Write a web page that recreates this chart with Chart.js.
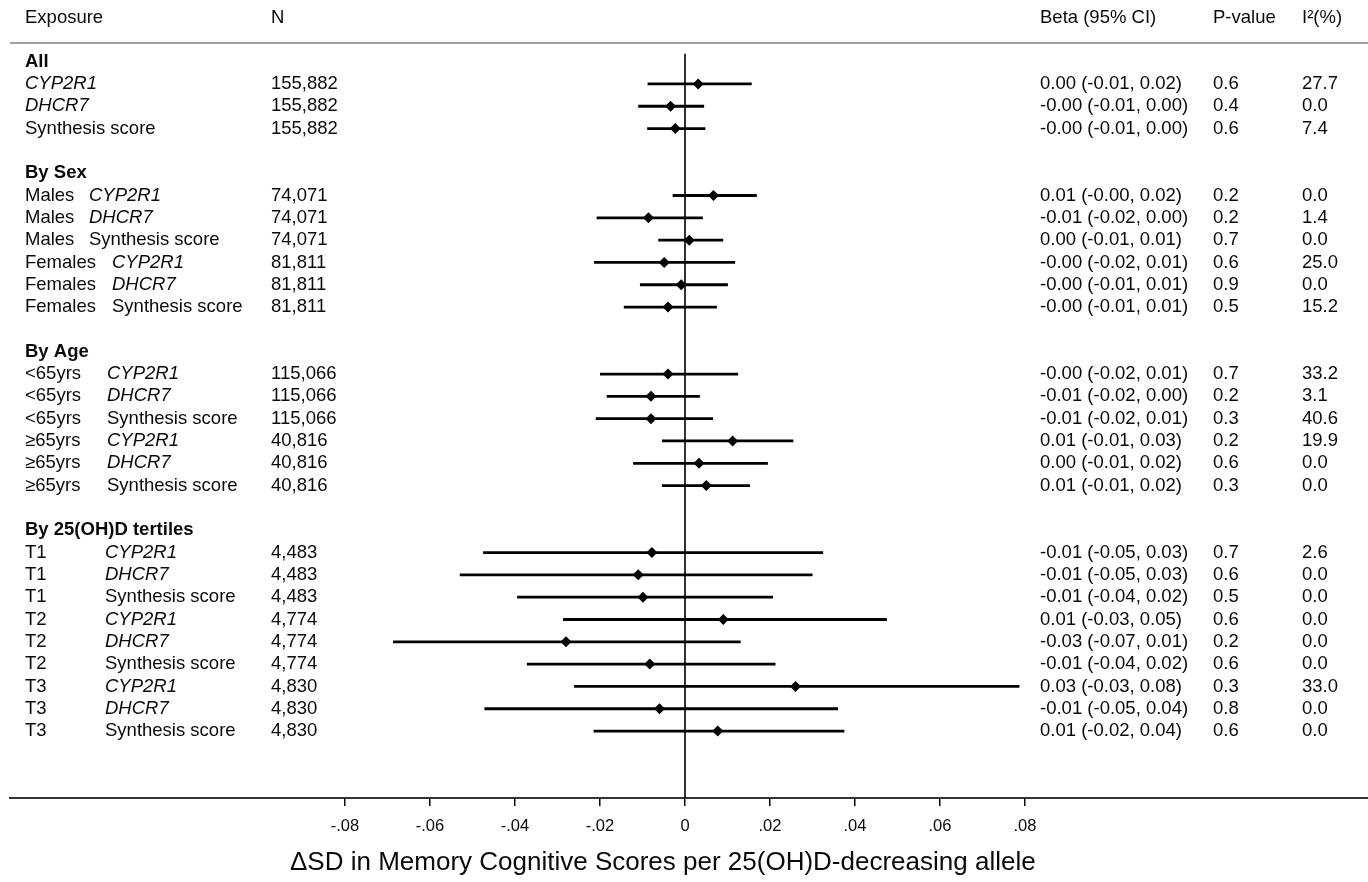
<!DOCTYPE html>
<html><head><meta charset="utf-8">
<script src="https://cdn.jsdelivr.net/npm/chart.js@4.4.1/dist/chart.umd.min.js"></script>
<style>html,body{margin:0;padding:0;background:#fff;}#wrap{width:1368px;height:882px;}</style>
</head><body><div id="wrap"><canvas id="c" width="1368" height="882"></canvas></div>
<script>
const sectionTitles = ['All', 'By Sex', 'By Age', 'By 25(OH)D tertiles'];
const sectionSizes = [3, 6, 6, 9];
const groupLabels = ['', '', '',
  'Males', 'Males', 'Males', 'Females', 'Females', 'Females',
  '<65yrs', '<65yrs', '<65yrs', '≥65yrs', '≥65yrs', '≥65yrs',
  'T1', 'T1', 'T1', 'T2', 'T2', 'T2', 'T3', 'T3', 'T3'];
const exposures = ['CYP2R1', 'DHCR7', 'Synthesis score',
  'CYP2R1', 'DHCR7', 'Synthesis score', 'CYP2R1', 'DHCR7', 'Synthesis score',
  'CYP2R1', 'DHCR7', 'Synthesis score', 'CYP2R1', 'DHCR7', 'Synthesis score',
  'CYP2R1', 'DHCR7', 'Synthesis score', 'CYP2R1', 'DHCR7', 'Synthesis score', 'CYP2R1', 'DHCR7', 'Synthesis score'];
const nValues = ['155,882', '155,882', '155,882',
  '74,071', '74,071', '74,071', '81,811', '81,811', '81,811',
  '115,066', '115,066', '115,066', '40,816', '40,816', '40,816',
  '4,483', '4,483', '4,483', '4,774', '4,774', '4,774', '4,830', '4,830', '4,830'];
const betas = [0.0031, -0.0034, -0.0023,
  0.0067, -0.0086, 0.0010, -0.0049, -0.0009, -0.0040,
  -0.0040, -0.0080, -0.0080, 0.0112, 0.0033, 0.0050,
  -0.0078, -0.0110, -0.0099, 0.0090, -0.0280, -0.0083, 0.0260, -0.0060, 0.0077];
const lowerCI = [-0.0088, -0.0110, -0.0089,
  -0.0029, -0.0208, -0.0063, -0.0214, -0.0106, -0.0144,
  -0.0200, -0.0184, -0.0210, -0.0054, -0.0122, -0.0054,
  -0.0475, -0.0530, -0.0395, -0.0287, -0.0687, -0.0372, -0.0261, -0.0472, -0.0215];
const upperCI = [0.0157, 0.0045, 0.0048,
  0.0169, 0.0042, 0.0090, 0.0118, 0.0101, 0.0075,
  0.0125, 0.0035, 0.0066, 0.0255, 0.0195, 0.0153,
  0.0325, 0.0300, 0.0207, 0.0475, 0.0131, 0.0213, 0.0787, 0.0360, 0.0375];
const betaLabels = ['0.00 (-0.01, 0.02)', '-0.00 (-0.01, 0.00)', '-0.00 (-0.01, 0.00)',
  '0.01 (-0.00, 0.02)', '-0.01 (-0.02, 0.00)', '0.00 (-0.01, 0.01)', '-0.00 (-0.02, 0.01)', '-0.00 (-0.01, 0.01)', '-0.00 (-0.01, 0.01)',
  '-0.00 (-0.02, 0.01)', '-0.01 (-0.02, 0.00)', '-0.01 (-0.02, 0.01)', '0.01 (-0.01, 0.03)', '0.00 (-0.01, 0.02)', '0.01 (-0.01, 0.02)',
  '-0.01 (-0.05, 0.03)', '-0.01 (-0.05, 0.03)', '-0.01 (-0.04, 0.02)', '0.01 (-0.03, 0.05)', '-0.03 (-0.07, 0.01)', '-0.01 (-0.04, 0.02)', '0.03 (-0.03, 0.08)', '-0.01 (-0.05, 0.04)', '0.01 (-0.02, 0.04)'];
const pValues = ['0.6', '0.4', '0.6',
  '0.2', '0.2', '0.7', '0.6', '0.9', '0.5',
  '0.7', '0.2', '0.3', '0.2', '0.6', '0.3',
  '0.7', '0.6', '0.5', '0.6', '0.2', '0.6', '0.3', '0.8', '0.6'];
const i2Values = ['27.7', '0.0', '7.4',
  '0.0', '1.4', '0.0', '25.0', '0.0', '15.2',
  '33.2', '3.1', '40.6', '19.9', '0.0', '0.0',
  '2.6', '0.0', '0.0', '0.0', '0.0', '0.0', '33.0', '0.0', '0.0'];
const xTickValues = [-0.08, -0.06, -0.04, -0.02, 0, 0.02, 0.04, 0.06, 0.08];
const xTickLabels = ['-.08', '-.06', '-.04', '-.02', '0', '.02', '.04', '.06', '.08'];
const columnHeaders = ['Exposure', 'N', 'Beta (95% CI)', 'P-value', 'I²(%)'];
const xAxisTitle = 'ΔSD in Memory Cognitive Scores per 25(OH)D-decreasing allele';

// layout (row slots)
const rowIdx = [];
const headerIdx = [];
{
  let r = 0;
  sectionSizes.forEach(n => {
    headerIdx.push(r);
    for (let k = 1; k <= n; k++) rowIdx.push(r + k);
    r += n + 2;
  });
}

const FONT = '"Liberation Sans", Arial, Helvetica, sans-serif';
const TEXT = '#0a0a0a';
const exposureX = {'': 25, 'Males': 89, 'Females': 112, '<65yrs': 107, '≥65yrs': 107, 'T1': 105, 'T2': 105, 'T3': 105};
const colX = {label: 25, n: 271, beta: 1040, p: 1213, i2: 1302};
// x scale: zero at 685 px, 85 px per 0.02, plot spans 10..1368
const ZERO_PX = 685, PX_PER_UNIT = 85 / 0.02, LEFT = 10, RIGHT = 1368;

const datasets = [];
betas.forEach((b, i) => {
  datasets.push({
    type: 'line',
    data: [{x: lowerCI[i], y: rowIdx[i]}, {x: upperCI[i], y: rowIdx[i]}],
    borderColor: '#000', borderWidth: 2.8, pointRadius: 0, fill: false, order: 2
  });
});
datasets.push({
  type: 'line',
  data: [{x: 0, y: -0.35}, {x: 0, y: 40}],
  borderColor: '#000', borderWidth: 1.6, pointRadius: 0, fill: false, order: 3
});
datasets.push({
  type: 'scatter',
  data: betas.map((b, i) => ({x: b, y: rowIdx[i]})),
  pointStyle: 'rectRot', pointRadius: 5.5, backgroundColor: '#000', borderColor: '#000', borderWidth: 0, order: 1
});

const textPlugin = {
  id: 'forestText',
  afterDraw(chart) {
    const ctx = chart.ctx;
    const ys = chart.scales.y;
    ctx.save();
    ctx.strokeStyle = '#a0a0a0';
    ctx.lineWidth = 2;
    ctx.beginPath(); ctx.moveTo(10, 43); ctx.lineTo(1368, 43); ctx.stroke();

    ctx.fillStyle = TEXT;
    ctx.textBaseline = 'middle';
    ctx.textAlign = 'left';
    ctx.font = '18.5px ' + FONT;
    const hx = [colX.label, colX.n, colX.beta, colX.p, colX.i2];
    columnHeaders.forEach((h, k) => ctx.fillText(h, hx[k], 18));

    ctx.font = 'bold 18.5px ' + FONT;
    sectionTitles.forEach((t, s) => ctx.fillText(t, colX.label, ys.getPixelForValue(headerIdx[s])));

    betas.forEach((b, i) => {
      const y = ys.getPixelForValue(rowIdx[i]);
      ctx.font = '18.5px ' + FONT;
      if (groupLabels[i]) ctx.fillText(groupLabels[i], colX.label, y);
      ctx.font = (exposures[i] === 'Synthesis score' ? '' : 'italic ') + '18.5px ' + FONT;
      ctx.fillText(exposures[i], exposureX[groupLabels[i]], y);
      ctx.font = '18.5px ' + FONT;
      ctx.fillText(nValues[i], colX.n, y);
      ctx.fillText(betaLabels[i], colX.beta, y);
      ctx.fillText(pValues[i], colX.p, y);
      ctx.fillText(i2Values[i], colX.i2, y);
    });

    ctx.font = '26px ' + FONT;
    ctx.textAlign = 'left';
    ctx.fillText(xAxisTitle, 290, 863);
    ctx.restore();
  }
};

new Chart(document.getElementById('c'), {
  data: {datasets},
  options: {
    responsive: false,
    animation: false,
    devicePixelRatio: 1,
    layout: {autoPadding: false, padding: {left: LEFT, right: 0, top: 17, bottom: 0}},
    plugins: {legend: {display: false}, tooltip: {enabled: false}},
    scales: {
      x: {
        type: 'linear', position: 'bottom',
        min: (LEFT - ZERO_PX) / PX_PER_UNIT, max: (RIGHT - ZERO_PX) / PX_PER_UNIT,
        afterBuildTicks: s => { s.ticks = xTickValues.map(v => ({value: v})); },
        afterFit: s => { s.height = 84; },
        ticks: {
          callback: (v, i) => xTickLabels[i],
          font: {family: FONT, size: 16.5}, color: TEXT, padding: 11,
          autoSkip: false, maxRotation: 0
        },
        grid: {drawOnChartArea: false, drawTicks: true, tickLength: 8, color: '#000', lineWidth: 1.5},
        border: {display: true, color: '#333', width: 2}
      },
      y: {type: 'linear', reverse: true, min: -2, max: 33, display: false}
    }
  },
  plugins: [textPlugin]
});
</script>
</body></html>
